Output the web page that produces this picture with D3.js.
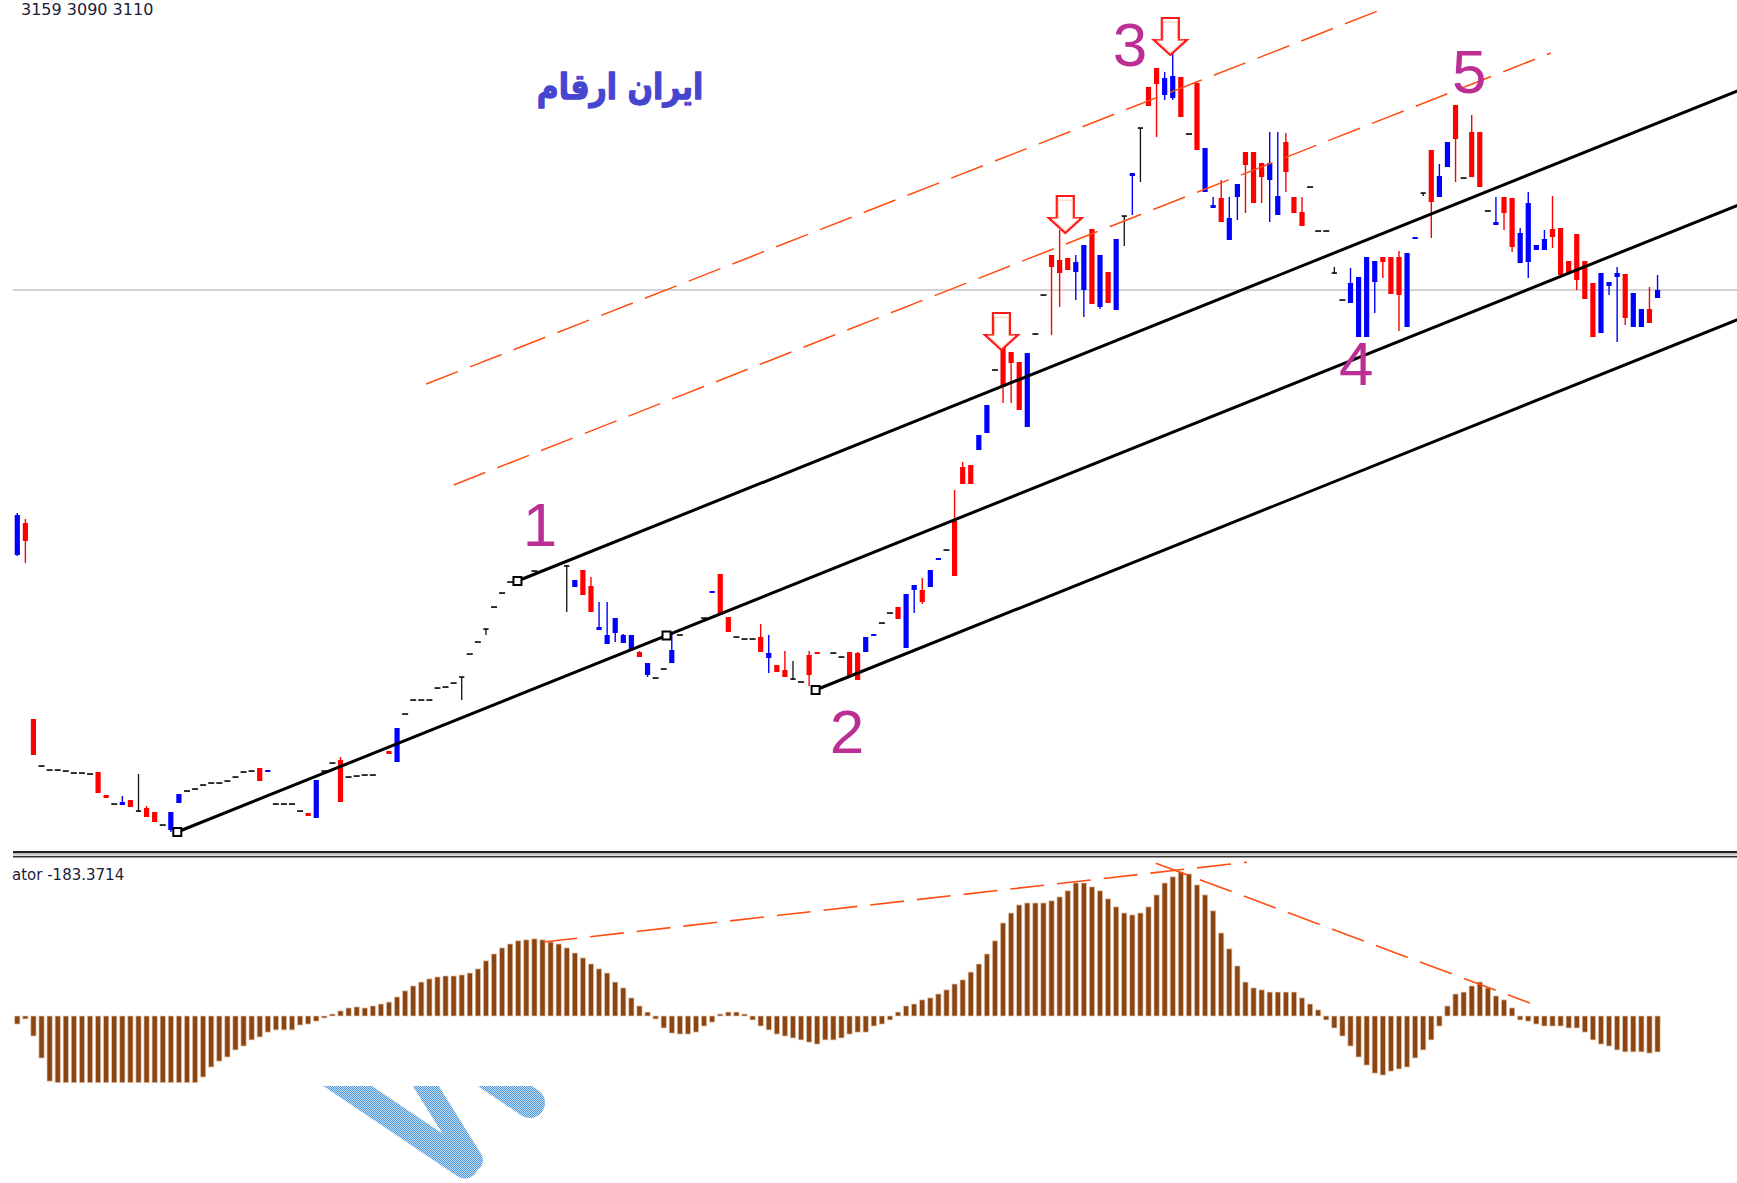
<!DOCTYPE html>
<html>
<head>
<meta charset="utf-8">
<script src="https://cdn.jsdelivr.net/npm/d3@7"></script>
<style>
  body { margin: 0; background: #fff; }
  svg { display: block; }
</style>
</head>
<body>
<svg id="chart" width="1737" height="1183"></svg>
<script>
// daily bars, one entry per bar; null = nothing drawn for that bar
const open = [
  2845, 2877, 2681, 2634, 2630, 2630, 2629, 2627, 2627, 2626,
  2628, 2605, 2596, 2595, 2600, 2589, 2592, 2588, 2575, 2570,
  2597, 2609, 2611, 2615, 2617, 2617, 2619, 2623, 2628, 2629,
  2632, 2628, 2596, 2596, 2596, 2589, 2587, 2582, 2629, 2637,
  2640, 2623, 2624, 2625, 2625, null, 2649, 2638, 2686, 2700,
  2700, 2700, 2712, 2713, 2717, 2723, 2746, 2758, 2771, 2793,
  2807, 2818, 2820, null, 2829, null, null, null, 2834, 2813,
  2830, 2814, 2770, 2756, 2767, 2757, 2750, 2748, 2725, 2722,
  2731, 2737, 2765, null, null, 2782, 2807, 2826, 2783, 2763,
  2761, 2761, 2763, 2742, 2735, 2730, 2721, 2718, 2745, 2748,
  null, 2747, 2743, 2748, 2747, 2748, 2764, 2777, 2787, 2793,
  2752, 2810, 2810, 2813, 2840, 2850, 2879, 2933, 2935, 2950,
  2967, 3030, 3067, 3048, 3038, 2973, 3066, 3105, 3145, 3140,
  3142, 3128, 3110, 3171, 3093, 3128, 3090, 3184, 3224, 3272,
  3313, 3332, 3305, 3302, 3323, 3266, 3317, 3208, 3192, 3202,
  3160, 3203, 3248, 3248, 3237, 3220, 3185, 3258, 3203, 3188,
  3213, 3169, 3169, 3127, 3100, 3097, 3063, 3063, 3118, 3143,
  3143, 3143, 3073, 3161, 3207, 3250, 3203, 3233, 3295, 3222,
  3268, 3268, 3189, 3175, 3203, 3202, 3137, 3138, 3150, 3150,
  3171, 3172, 3139, 3166, 3139, 3117, 3067, 3114, 3123, 3126,
  3073, 3073, 3091, 3102
];
const high = [
  2887, 2881, 2681, 2634, 2630, 2630, 2629, 2627, 2627, 2626,
  2628, 2605, 2596, 2604, 2600, 2626, 2594, 2588, 2575, 2588,
  2606, 2609, 2611, 2615, 2617, 2617, 2619, 2623, 2628, 2629,
  2632, 2630, 2596, 2596, 2596, 2589, 2587, 2620, 2629, 2637,
  2643, 2623, 2624, 2625, 2625, null, 2649, 2672, 2686, 2700,
  2700, 2700, 2712, 2713, 2717, 2723, 2746, 2758, 2771, 2793,
  2807, 2818, 2820, null, 2829, null, null, null, 2835, 2820,
  2830, 2823, 2798, 2798, 2782, 2766, 2765, 2749, 2737, 2722,
  2731, 2767, 2765, null, null, 2782, 2809, 2826, 2783, 2763,
  2761, 2761, 2776, 2765, 2735, 2749, 2739, 2718, 2749, 2748,
  null, 2747, 2743, 2748, 2748, 2763, 2766, 2777, 2787, 2793,
  2806, 2815, 2822, 2830, 2842, 2850, 2910, 2938, 2935, 2965,
  2995, 3030, 3067, 3048, 3038, 3047, 3066, 3105, 3145, 3170,
  3142, 3145, 3155, 3171, 3145, 3128, 3161, 3184, 3227, 3272,
  3313, 3332, 3328, 3365, 3323, 3266, 3317, 3252, 3203, 3220,
  3203, 3216, 3248, 3248, 3237, 3268, 3268, 3267, 3203, 3203,
  3213, 3169, 3169, 3133, 3100, 3132, 3123, 3143, 3139, 3143,
  3143, 3149, 3147, 3163, 3207, 3250, 3236, 3258, 3295, 3222,
  3285, 3268, 3189, 3203, 3203, 3202, 3172, 3208, 3155, 3170,
  3204, 3172, 3139, 3166, 3139, 3117, 3127, 3118, 3133, 3126,
  3107, 3091, 3113, 3125
];
const low = [
  2844, 2837, 2645, 2634, 2630, 2630, 2629, 2627, 2627, 2626,
  2607, 2602, 2596, 2595, 2593, 2588, 2583, 2578, 2575, 2568,
  2597, 2609, 2611, 2615, 2617, 2617, 2619, 2623, 2628, 2629,
  2619, 2628, 2596, 2596, 2596, 2589, 2584, 2582, 2629, 2637,
  2598, 2623, 2624, 2625, 2625, null, 2646, 2638, 2686, 2700,
  2700, 2700, 2712, 2713, 2717, 2700, 2746, 2758, 2765, 2793,
  2807, 2818, 2820, null, 2829, null, null, null, 2788, 2813,
  2805, 2788, 2770, 2756, 2758, 2757, 2750, 2743, 2723, 2722,
  2731, 2737, 2765, null, null, 2782, 2807, 2785, 2768, 2763,
  2761, 2761, 2748, 2727, 2728, 2723, 2720, 2718, 2714, 2746,
  null, 2747, 2743, 2723, 2720, 2748, 2764, 2777, 2787, 2781,
  2752, 2787, 2796, 2813, 2840, 2850, 2824, 2916, 2916, 2950,
  2967, 3030, 2997, 2997, 2990, 2973, 3066, 3105, 3065, 3093,
  3130, 3100, 3083, 3096, 3091, 3097, 3090, 3154, 3185, 3218,
  3294, 3263, 3300, 3300, 3283, 3266, 3250, 3208, 3192, 3178,
  3160, 3180, 3187, 3197, 3197, 3178, 3185, 3208, 3187, 3174,
  3213, 3169, 3169, 3127, 3100, 3097, 3063, 3063, 3087, 3122,
  3106, 3069, 3073, 3161, 3204, 3162, 3203, 3233, 3218, 3222,
  3223, 3213, 3189, 3175, 3170, 3148, 3137, 3122, 3150, 3150,
  3152, 3125, 3127, 3110, 3101, 3063, 3067, 3105, 3058, 3075,
  3073, 3073, 3077, 3102
];
const close = [
  2885, 2859, 2645, 2634, 2630, 2630, 2629, 2627, 2627, 2626,
  2607, 2602, 2596, 2598, 2593, 2589, 2583, 2578, 2575, 2588,
  2606, 2609, 2611, 2615, 2617, 2617, 2619, 2623, 2628, 2629,
  2619, 2630, 2596, 2596, 2596, 2589, 2584, 2620, 2629, 2637,
  2598, 2623, 2624, 2625, 2625, null, 2646, 2672, 2686, 2700,
  2700, 2700, 2712, 2713, 2717, 2723, 2746, 2758, 2771, 2793,
  2807, 2818, 2820, null, 2829, null, null, null, 2834, 2820,
  2805, 2788, 2773, 2765, 2782, 2765, 2765, 2743, 2737, 2722,
  2731, 2750, 2765, null, null, 2782, 2809, 2785, 2768, 2763,
  2761, 2761, 2748, 2747, 2728, 2723, 2721, 2718, 2725, 2746,
  null, 2747, 2743, 2723, 2720, 2763, 2766, 2777, 2787, 2781,
  2806, 2815, 2798, 2830, 2842, 2850, 2824, 2916, 2916, 2965,
  2995, 3030, 3013, 3037, 2990, 3047, 3066, 3105, 3133, 3127,
  3130, 3138, 3155, 3096, 3145, 3097, 3161, 3184, 3227, 3272,
  3294, 3316, 3322, 3324, 3283, 3266, 3250, 3252, 3195, 3178,
  3182, 3216, 3235, 3197, 3223, 3237, 3204, 3228, 3187, 3174,
  3213, 3169, 3169, 3127, 3100, 3117, 3123, 3143, 3139, 3138,
  3106, 3105, 3147, 3163, 3207, 3198, 3224, 3258, 3261, 3222,
  3223, 3213, 3189, 3178, 3187, 3153, 3167, 3197, 3155, 3161,
  3163, 3125, 3127, 3120, 3101, 3063, 3127, 3118, 3127, 3082,
  3107, 3091, 3077, 3110
];
// oscillator histogram, same bars
const osc = [
  -41, -15, -102, -214, -332, -340, -340, -340, -340, -340,
  -340, -340, -340, -340, -340, -340, -340, -340, -340, -340,
  -340, -340, -340, -311, -260, -230, -209, -173, -153, -122,
  -107, -82, -71, -71, -71, -46, -41, -26, -10, 10,
  26, 41, 46, 41, 51, 61, 71, 97, 128, 153,
  173, 189, 199, 204, 204, 209, 219, 240, 281, 316,
  347, 367, 383, 388, 393, 388, 377, 367, 347, 321,
  296, 265, 240, 219, 173, 143, 92, 51, 20, -15,
  -61, -87, -92, -92, -82, -51, -31, 10, 20, 20,
  10, -20, -51, -71, -92, -102, -112, -122, -133, -143,
  -122, -122, -112, -92, -82, -82, -51, -41, -20, 20,
  51, 61, 82, 92, 112, 133, 163, 184, 224, 265,
  316, 383, 474, 525, 566, 576, 576, 576, 587, 607,
  638, 678, 678, 658, 638, 597, 556, 525, 515, 525,
  556, 617, 678, 709, 734, 724, 668, 617, 536, 423,
  342, 255, 173, 143, 133, 122, 122, 122, 122, 92,
  61, 31, -20, -61, -102, -153, -209, -250, -291, -301,
  -281, -270, -260, -214, -173, -122, -51, 51, 112, 122,
  153, 173, 143, 102, 82, 41, -20, -26, -41, -51,
  -51, -51, -61, -61, -82, -122, -143, -153, -173, -183,
  -183, -183, -189, -183.3714
];

// Andrews pitchfork anchors (bar, price)
const forkA = {i: 19.8, p: 2568};
const forkB = {i: 61.9, p: 2819};
const forkC = {i: 98.8, p: 2710};
// dashed warning lines above the fork
const warnLines = [
  [{i: 50.6, p: 3016}, {i: 169.0, p: 3391}],
  [{i: 54.0, p: 2915}, {i: 189.8, p: 3347}]
];
// dashed trend lines on the oscillator
const oscLines = [
  [{i: 65.1, v: 377}, {i: 152.2, v: 784}],
  [{i: 140.9, v: 779}, {i: 187.2, v: 66}]
];
const waveLabels = [
  {t: "1", i: 64.7, p: 2854},
  {t: "2", i: 102.7, p: 2647},
  {t: "3", i: 137.7, p: 3334},
  {t: "4", i: 165.7, p: 3015},
  {t: "5", i: 179.7, p: 3307}
];
const arrows = [{i: 121.8, p: 3050}, {i: 129.7, p: 3167}, {i: 142.7, p: 3345}];
const bidPrice = 3110;
const headerText = "3159 3090 3110";
const oscText = "ator -183.3714";
const title = "ایران ارقام";

const W = 1737, H = 1183;
const left = 13, mainBottom = 850;
const svg = d3.select("#chart");
const N = close.length;

const x = d3.scaleLinear().domain([0, N - 1]).range([17.3, 17.3 + 8.08 * (N - 1)]);
const y = d3.scaleLinear().domain([2550, 3400]).range([mainBottom, 0]);
const yo = d3.scaleLinear().domain([0, 734]).range([1016, 872]);

const defs = svg.append("defs");
defs.append("clipPath").attr("id", "clipMain")
  .append("rect").attr("x", left).attr("y", 0).attr("width", W - left).attr("height", mainBottom);
defs.append("clipPath").attr("id", "clipOsc")
  .append("rect").attr("x", left).attr("y", 860).attr("width", W - left).attr("height", H - 860);
defs.append("clipPath").attr("id", "clipMark")
  .append("rect").attr("x", 0).attr("y", 1086).attr("width", W).attr("height", H - 1086);
const pat = defs.append("pattern").attr("id", "dots")
  .attr("width", 2).attr("height", 2).attr("patternUnits", "userSpaceOnUse");
pat.append("rect").attr("width", 2).attr("height", 2).attr("fill", "#c2ddf3");
pat.append("rect").attr("width", 1).attr("height", 1).attr("fill", "#4f97da");
pat.append("rect").attr("x", 1).attr("y", 1).attr("width", 1).attr("height", 1).attr("fill", "#4f97da");

// header texts
svg.append("text").attr("x", 21).attr("y", 15)
  .style("font-family", "DejaVu Sans, sans-serif").style("font-size", "16px")
  .attr("fill", "#1c1c3a").text(headerText);

const main = svg.append("g").attr("clip-path", "url(#clipMain)");

// bid line
main.append("line")
  .attr("x1", left).attr("x2", W).attr("y1", y(bidPrice)).attr("y2", y(bidPrice))
  .attr("stroke", "#c4c4c4").attr("stroke-width", 1.5);

// candles
const bars = d3.range(N).filter(i => close[i] != null)
  .map(i => ({i: i, o: open[i], h: high[i], l: low[i], c: close[i]}));
const bw = 5.2;

const cg = main.append("g");
bars.forEach(d => {
  const cx = x(d.i);
  if (d.h === d.l) {
    cg.append("rect").attr("x", cx - 3).attr("y", y(d.c) - 0.8).attr("width", 6).attr("height", 1.7).attr("fill", "#111");
    return;
  }
  if (d.o === d.c) {
    cg.append("line").attr("x1", cx).attr("x2", cx).attr("y1", y(d.h)).attr("y2", y(d.l))
      .attr("stroke", "#111").attr("stroke-width", 1.3);
    cg.append("rect").attr("x", cx - 2.6).attr("y", y(d.c) - 0.8).attr("width", bw).attr("height", 1.7).attr("fill", "#111");
    return;
  }
  const col = d.c > d.o ? "#0000ff" : "#ff0000";
  cg.append("line").attr("x1", cx).attr("x2", cx).attr("y1", y(d.h)).attr("y2", y(d.l))
    .attr("stroke", col).attr("stroke-width", 1.4);
  const top = y(Math.max(d.o, d.c)), bot = y(Math.min(d.o, d.c));
  cg.append("rect").attr("x", cx - bw / 2).attr("y", top).attr("width", bw)
    .attr("height", Math.max(1.6, bot - top)).attr("fill", col);
});

// warning lines
const line = d3.line().x(d => x(d.i)).y(d => y(d.p));
main.selectAll(".warn").data(warnLines).join("path")
  .attr("d", line).attr("fill", "none")
  .attr("stroke", "#ff4d12").attr("stroke-width", 1.5).attr("stroke-dasharray", "34,13");

// pitchfork
const mid = {i: (forkB.i + forkC.i) / 2, p: (forkB.p + forkC.p) / 2};
const slope = (mid.p - forkA.p) / (mid.i - forkA.i);
const iEnd = x.invert(W + 5);
const forkLines = [forkA, forkB, forkC].map(s => [s, {i: iEnd, p: s.p + slope * (iEnd - s.i)}]);
main.selectAll(".fork").data(forkLines).join("path")
  .attr("d", line).attr("fill", "none").attr("stroke", "#000").attr("stroke-width", 3);
main.selectAll(".anchor").data([forkA, forkB, forkC, mid]).join("rect")
  .attr("x", d => x(d.i) - 4).attr("y", d => y(d.p) - 4).attr("width", 8).attr("height", 8)
  .attr("fill", "#fff").attr("stroke", "#000").attr("stroke-width", 2);

// fractal arrows
const arrowPath = "M-8.5,-37 H8.5 V-15 H16.5 L0,0 L-16.5,-15 H-8.5 Z";
main.selectAll(".arrow").data(arrows).join("path")
  .attr("transform", d => `translate(${x(d.i)},${y(d.p)})`)
  .attr("d", arrowPath).attr("fill", "#fff").attr("stroke", "#ff1a1a").attr("stroke-width", 2.2)
  .attr("stroke-linejoin", "miter");
main.selectAll(".arrowIn").data(arrows).join("path")
  .attr("transform", d => `translate(${x(d.i)},${y(d.p)}) scale(0.82) translate(0,-3)`)
  .attr("d", arrowPath).attr("fill", "none").attr("stroke", "#ffc0a0").attr("stroke-width", 1);

// wave labels
main.selectAll(".wave").data(waveLabels).join("text")
  .attr("x", d => x(d.i)).attr("y", d => y(d.p)).attr("text-anchor", "middle")
  .style("font-family", "Liberation Sans, Arial, sans-serif").style("font-size", "62px")
  .attr("fill", "#bb2f95").text(d => d.t);

// title
svg.append("text").attr("transform", "translate(620,99) scale(0.88,1.05)")
  .attr("text-anchor", "middle").attr("direction", "rtl")
  .style("font-family", "DejaVu Sans, sans-serif").style("font-size", "34px").style("font-weight", "bold")
  .attr("fill", "#4545d0").attr("stroke", "#4545d0").attr("stroke-width", 1.2)
  .attr("stroke-linejoin", "round").text(title);

// pane separator
svg.append("rect").attr("x", left).attr("y", 851).attr("width", W - left).attr("height", 2.3).attr("fill", "#222");
svg.append("rect").attr("x", left).attr("y", 854).attr("width", W - left).attr("height", 1.5).attr("fill", "#c8c8c8");
svg.append("rect").attr("x", left).attr("y", 856).attr("width", W - left).attr("height", 1.5).attr("fill", "#333");

svg.append("text").attr("x", 12).attr("y", 880)
  .style("font-family", "DejaVu Sans, sans-serif").style("font-size", "15px")
  .attr("fill", "#1c1c3a").text(oscText);

// oscillator histogram
const og = svg.append("g").attr("clip-path", "url(#clipOsc)");
og.selectAll(".ob").data(osc).join("rect")
  .attr("x", (d, i) => x(i) - 2.6)
  .attr("y", d => Math.min(yo(0), yo(d)))
  .attr("width", 5.2)
  .attr("height", d => Math.max(1.5, Math.abs(yo(d) - yo(0))))
  .attr("fill", "#8b4513").attr("stroke", "#e3c6ad").attr("stroke-width", 0.7);

const oline = d3.line().x(d => x(d.i)).y(d => yo(d.v));
og.selectAll(".ol").data(oscLines).join("path")
  .attr("d", oline).attr("fill", "none")
  .attr("stroke", "#ff4d12").attr("stroke-width", 1.6).attr("stroke-dasharray", "34,13");

// watermark strokes, cut off at the top
const watermark = [
  {x1: 300, y1: 1054, x2: 465, y2: 1165, w: 27},
  {x1: 407, y1: 1056, x2: 472, y2: 1160, w: 22},
  {x1: 460, y1: 1056, x2: 530, y2: 1103, w: 30}
];
svg.append("g").attr("clip-path", "url(#clipMark)")
  .selectAll("line").data(watermark).join("line")
  .attr("x1", d => d.x1).attr("y1", d => d.y1).attr("x2", d => d.x2).attr("y2", d => d.y2)
  .attr("stroke", "url(#dots)").attr("stroke-width", d => d.w).attr("stroke-linecap", "round");
</script>
</body>
</html>
